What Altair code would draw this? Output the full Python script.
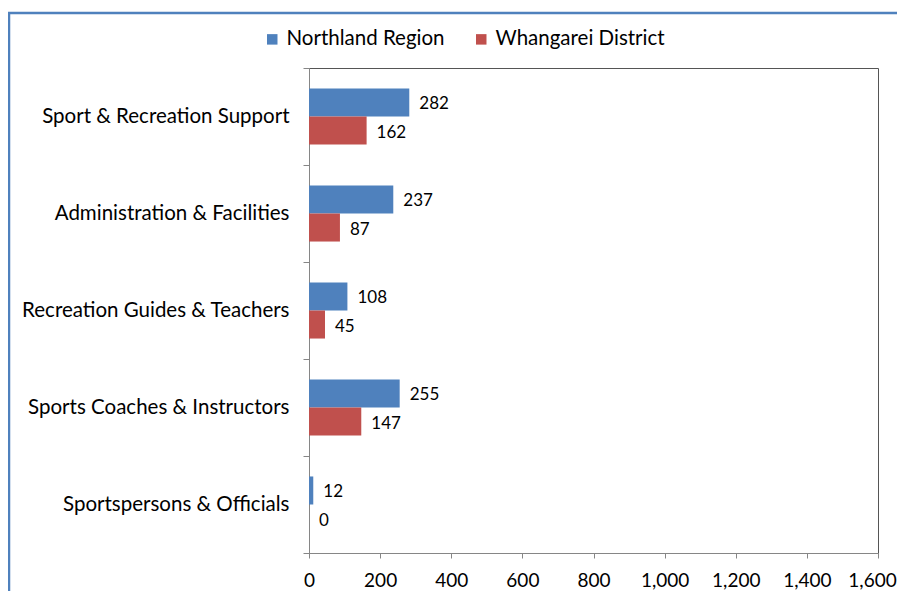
import altair as alt
import pandas as pd

categories = ["Sport & Recreation Support", "Administration & Facilities",
              "Recreation Guides & Teachers", "Sports Coaches & Instructors",
              "Sportspersons & Officials"]
series = ["Northland Region", "Whangarei District"]
northland = [282, 237, 108, 255, 12]
whangarei = [162, 87, 45, 147, 0]
colors = ["#4F81BD", "#C0504D"]
x_ticks = [0, 200, 400, 600, 800, 1000, 1200, 1400, 1600]

rows = []
for c, n, w in zip(categories, northland, whangarei):
    rows.append({"category": c, "series": series[0], "value": n})
    rows.append({"category": c, "series": series[1], "value": w})
df = pd.DataFrame(rows)

FONT = "Lato"

y_enc = alt.Y("category:N", sort=categories, title=None,
              scale=alt.Scale(paddingInner=0, paddingOuter=0),
              axis=alt.Axis(tickBand="extent", tickSize=6, labelPadding=14,
                            labelFontSize=20.5, labelColor="#000", labelFont=FONT,
                            domainColor="#868686", tickColor="#868686", labelLimit=400))
yoff = alt.YOffset("series:N", sort=series,
                   scale=alt.Scale(paddingInner=0, paddingOuter=0.73))
x_enc = alt.X("value:Q", title=None,
              scale=alt.Scale(domain=[0, 1600], nice=False),
              axis=alt.Axis(values=x_ticks, format=",.0f", grid=False, tickSize=5,
                            labelPadding=13, labelFontSize=19, labelColor="#000",
                            labelOverlap=False, labelFlush=False,
                            labelOffset={"condition": {"test": "datum.value == 1600", "value": -6},
                                         "value": 0},
                            labelFont=FONT, domainColor="#868686", tickColor="#868686"))

bars = alt.Chart(df).mark_bar().encode(
    x=x_enc, y=y_enc, yOffset=yoff,
    color=alt.Color("series:N", sort=series,
                    scale=alt.Scale(domain=series, range=colors),
                    legend=alt.Legend(title=None, orient="none", direction="horizontal",
                                      legendX=-47, legendY=-39, symbolType="square",
                                      symbolSize=110, symbolStrokeWidth=0,
                                      labelFontSize=20.5, labelFont=FONT, labelColor="#000",
                                      labelLimit=300, columnPadding=26, labelOffset=4))
)

labels = alt.Chart(df).mark_text(align="left", baseline="middle", dx=10, dy=2,
                                 fontSize=17, font=FONT, color="#000").encode(
    x=x_enc, y=y_enc, yOffset=yoff,
    text=alt.Text("value:Q", format=",.0f")
)

frame = alt.Chart(pd.DataFrame({"a": [0]})).mark_rect(
    fill=None, stroke="#4F81BD", strokeWidth=2.5, clip=False).encode(
    x=alt.value(-300), x2=alt.value(700), y=alt.value(-55), y2=alt.value(600)
)

chart = alt.layer(frame, bars, labels).properties(
    width=569, height=485,
    autosize=alt.AutoSizeParams(type="none"),
    padding={"left": 301, "top": 60, "right": 19, "bottom": 38},
).configure_view(stroke="#555555", strokeWidth=1)

chart.save("out.html", embed_options={"renderer": "svg", "actions": False})
